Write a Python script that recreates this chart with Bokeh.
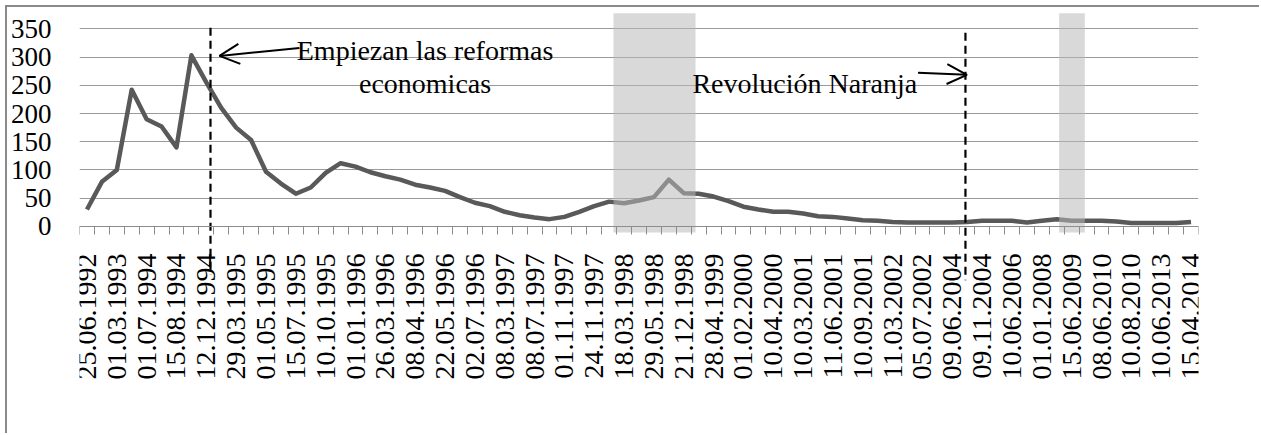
import math
from bokeh.plotting import figure
from bokeh.models import Range1d, FixedTicker, Label, Arrow, OpenHead
from bokeh.embed import file_html
from bokeh.resources import INLINE

# ---- data -------------------------------------------------------------
tick_labels = [
    "25.06.1992", "01.03.1993", "01.07.1994", "15.08.1994", "12.12.1994",
    "29.03.1995", "01.05.1995", "15.07.1995", "10.10.1995", "01.01.1996",
    "26.03.1996", "08.04.1996", "22.05.1996", "02.07.1996", "08.03.1997",
    "08.07.1997", "01.11.1997", "24.11.1997", "18.03.1998", "29.05.1998",
    "21.12.1998", "28.04.1999", "01.02.2000", "10.04.2000", "10.03.2001",
    "11.06.2001", "10.09.2001", "11.03.2002", "05.07.2002", "09.06.2004",
    "09.11.2004", "10.06.2006", "01.01.2008", "15.06.2009", "08.06.2010",
    "10.08.2010", "10.06.2013", "15.04.2014",
]

values = [
    30, 79, 100, 242, 190, 177, 140, 303, 255, 210,
    175, 153, 97, 76, 58, 69, 95, 112, 106, 96,
    89, 83, 74, 69, 63, 52, 42, 36, 26, 20,
    16, 13, 17, 26, 36, 44, 41, 46, 52, 83,
    59, 58, 53, 45, 35, 30, 26, 26, 23, 18,
    17, 14, 11, 10, 8, 7, 7, 7, 7, 8,
    10, 10, 10, 7, 10, 13, 10, 10, 10, 9,
    6, 6, 6, 6, 8,
]

y_ticks = [0, 50, 100, 150, 200, 250, 300, 350]

# shaded periods (in category-index units) and event markers
shade_left = [35.29, 65.16]
shade_right = [40.79, 66.88]
event_x = [8.28, 58.88]
event_top = [351.6, 342.8]
event_bottom = [-86, -95]

x = list(range(len(values)))

# ---- figure -----------------------------------------------------------
p = figure(
    width=1254, height=428,
    output_backend="svg", toolbar_location=None,
    x_range=Range1d(-0.5, len(values) - 0.5),
    y_range=Range1d(-370.0, 378.8),
    min_border_left=70, min_border_right=63,
    min_border_top=5, min_border_bottom=0,
    styles={"margin-left": "5px", "margin-top": "5px",
            "border-left": "2px solid #8a8a8a",
            "border-top": "2px solid #8a8a8a"},
)
p.outline_line_color = None
p.background_fill_color = "white"
p.border_fill_color = "white"

p.xgrid.visible = False
p.ygrid.grid_line_color = "#9a9a9a"
p.ygrid.grid_line_width = 1

serif = "Liberation Serif"

# y axis
p.yaxis.ticker = FixedTicker(ticks=y_ticks)
p.yaxis.axis_line_color = None
p.yaxis.major_tick_line_color = None
p.yaxis.minor_tick_line_color = None
p.yaxis.major_label_standoff = 22
p.yaxis.major_label_text_font = serif
p.yaxis.major_label_text_font_size = "27px"
p.yaxis.major_label_text_color = "black"

# x axis (drawn at y = 0)
p.xaxis.fixed_location = 0
p.xaxis.ticker = FixedTicker(
    ticks=[2 * i for i in range(len(tick_labels))],
    minor_ticks=[i - 0.5 for i in range(len(values) + 1)],
)
p.xaxis.major_label_overrides = {2 * i: lab for i, lab in enumerate(tick_labels)}
p.xaxis.major_label_orientation = math.pi / 2
p.xaxis.major_tick_line_color = None
p.xaxis.major_tick_in = 0
p.xaxis.major_tick_out = 0
p.xaxis.minor_tick_in = 0
p.xaxis.minor_tick_out = 8
p.xaxis.minor_tick_line_color = "#8c8c8c"
p.xaxis.axis_line_color = "#8c8c8c"
p.xaxis.major_label_standoff = 19
p.xaxis.major_label_text_font = serif
p.xaxis.major_label_text_font_size = "28px"
p.xaxis.major_label_text_color = "black"

# series
p.line(x, values, line_width=4.5, line_color="#595959", line_join="round")

# shaded periods (semi-transparent, over the line)
p.quad(left=shade_left, right=shade_right, bottom=-10.6, top=377.6,
       fill_color="#b8b8b8", fill_alpha=0.54, line_color=None)

# event dashed lines
p.segment(x0=event_x, y0=event_top, x1=event_x, y1=event_bottom,
          line_color="black", line_width=2.2, line_dash="8 5")

# annotations
p.add_layout(Label(x=22.66, y=311.6, text="Empiezan las reformas",
                   text_align="center", text_baseline="alphabetic",
                   text_font=serif, text_font_size="28px", text_color="black"))
p.add_layout(Label(x=22.66, y=253.1, text="economicas",
                   text_align="center", text_baseline="alphabetic",
                   text_font=serif, text_font_size="28px", text_color="black"))
p.add_layout(Label(x=55.64, y=252.6, text="Revolución Naranja",
                   text_align="right", text_baseline="alphabetic",
                   text_font=serif, text_font_size="28px", text_color="black"))

p.add_layout(Arrow(end=OpenHead(size=20, line_width=2, line_color="black"),
                   x_start=14.24, y_start=316, x_end=8.88, y_end=302,
                   line_width=2, line_color="black"))
p.add_layout(Arrow(end=OpenHead(size=20, line_width=2, line_color="black"),
                   x_start=55.7, y_start=272, x_end=58.98, y_end=268.5,
                   line_width=2, line_color="black"))

open("out.html", "w").write(file_html(p, INLINE))
